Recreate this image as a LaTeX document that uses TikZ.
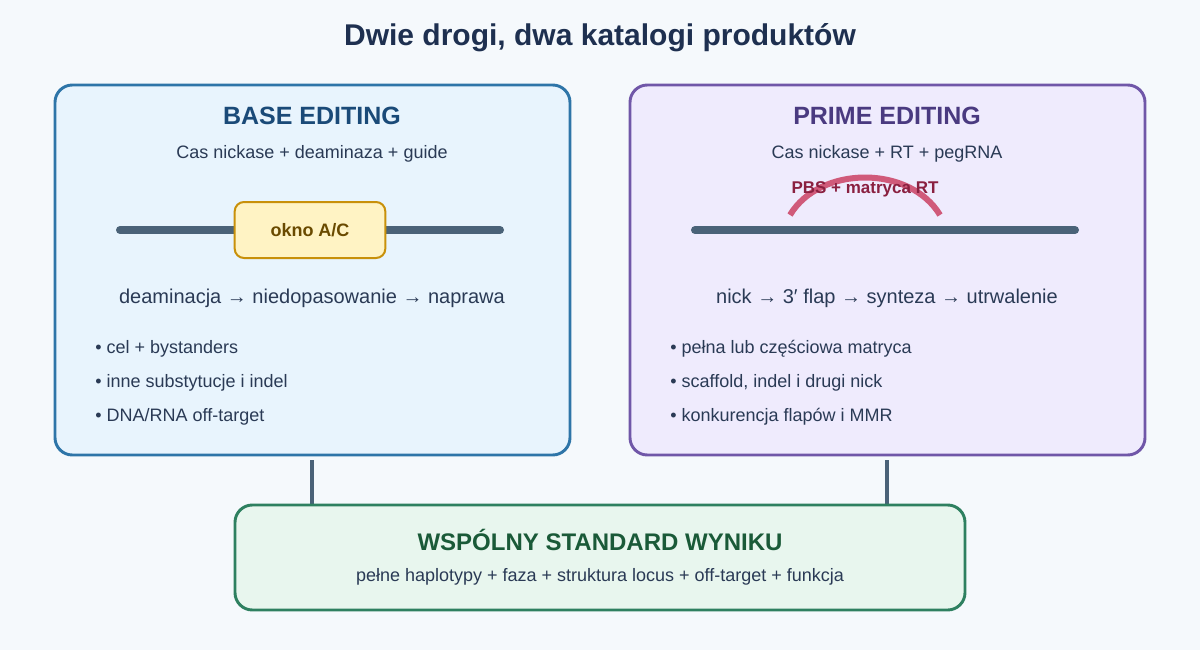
\documentclass[tikz,border=0pt]{standalone}
\usepackage{fontspec}
\setmainfont{Liberation Sans}
\definecolor{bg}{HTML}{F5F9FC}
\definecolor{ink}{HTML}{1E3050}
\definecolor{txt}{HTML}{2A3A55}
\definecolor{lbfill}{HTML}{E8F4FD}
\definecolor{lbdraw}{HTML}{2E75A8}
\definecolor{lbtitle}{HTML}{1A4A78}
\definecolor{rbfill}{HTML}{EFEBFD}
\definecolor{rbdraw}{HTML}{7057A8}
\definecolor{rbtitle}{HTML}{4A3A80}
\definecolor{gfill}{HTML}{E8F6EE}
\definecolor{gdraw}{HTML}{2E8060}
\definecolor{gtitle}{HTML}{1A5A38}
\definecolor{strand}{HTML}{4A6278}
\definecolor{okfill}{HTML}{FFF3C4}
\definecolor{okdraw}{HTML}{C8900A}
\definecolor{oktxt}{HTML}{6A4A00}
\definecolor{arcc}{HTML}{D05A7A}
\definecolor{arct}{HTML}{8A2040}
\newcommand{\fpx}[1]{\fontsize{\fpeval{#1*0.75}pt}{\fpeval{#1*0.9}pt}\selectfont}
\begin{document}
\begin{tikzpicture}[x=0.75pt,y=-0.75pt,
  box/.style={rounded corners=13pt,line width=2.2pt},
  strandl/.style={line width=6pt,draw=strand,line cap=round},
  conn/.style={line width=2.3pt,draw=strand},
  t/.style={text=txt,inner sep=0pt},
  bul/.style={t,anchor=west,font=\fpx{18}}]
\useasboundingbox (0,0) rectangle (1200,650);
\fill[bg] (0,0) rectangle (1200,650);
\node[t,text=ink,font=\bfseries\fpx{30}] (title) at (600,38) {Dwie drogi, dwa katalogi produktów};
% left
\draw[box,fill=lbfill,draw=lbdraw] (55,85) rectangle (570,455);
\node[t,text=lbtitle,font=\bfseries\fpx{25}] (lt) at (312,116) {BASE EDITING};
\node[t,font=\fpx{18}] (ls) at (312,154) {Cas nickase + deaminaza + guide};
\coordinate (la) at (120,230); \coordinate (lb) at (500,230);
\draw[strandl] (la) -- (lb);
\node[draw=okdraw,fill=okfill,line width=1.5pt,rounded corners=7pt,minimum width=113pt,minimum height=42pt,text=oktxt,font=\bfseries\fpx{18}] (ok) at (310,230) {okno A/C};
\node[t,font=\fpx{20}] (lp) at (312,298) {deaminacja → niedopasowanie → naprawa};
\node[bul] (l1) at (95,349) {• cel + bystanders};
\node[bul] (l2) at (95,383) {• inne substytucje i indel};
\node[bul] (l3) at (95,417) {• DNA/RNA off-target};
% right
\draw[box,fill=rbfill,draw=rbdraw] (630,85) rectangle (1145,455);
\node[t,text=rbtitle,font=\bfseries\fpx{25}] (rt) at (887,116) {PRIME EDITING};
\node[t,font=\fpx{18}] (rs) at (887,154) {Cas nickase + RT + pegRNA};
\coordinate (ra) at (695,230); \coordinate (rb) at (1075,230);
\draw[strandl] (ra) -- (rb);
\coordinate (a1) at (790,215); \coordinate (a2) at (940,215);
\draw[line width=4.5pt,draw=arcc] (a1) .. controls (820,165) and (910,165) .. (a2);
\node[t,text=arct,font=\bfseries\fpx{17}] (pbs) at (865,189) {PBS + matryca RT};
\node[t,font=\fpx{20}] (rp) at (887,298) {nick → 3′ flap → synteza → utrwalenie};
\node[bul] (r1) at (670,349) {• pełna lub częściowa matryca};
\node[bul] (r2) at (670,383) {• scaffold, indel i drugi nick};
\node[bul] (r3) at (670,417) {• konkurencja flapów i MMR};
% connectors
\coordinate (c1) at (312,460); \coordinate (c2) at (312,505);
\coordinate (c3) at (887,460); \coordinate (c4) at (887,505);
\draw[conn] (c1) -- (c2);
\draw[conn] (c3) -- (c4);
% bottom
\draw[box,fill=gfill,draw=gdraw] (235,505) rectangle (965,610);
\node[t,text=gtitle,font=\bfseries\fpx{24}] (bt) at (600,540) {WSPÓLNY STANDARD WYNIKU};
\node[t,font=\fpx{18}] (bs) at (600,577) {pełne haplotypy + faza + struktura locus + off-target + funkcja};
\end{tikzpicture}
\end{document}
